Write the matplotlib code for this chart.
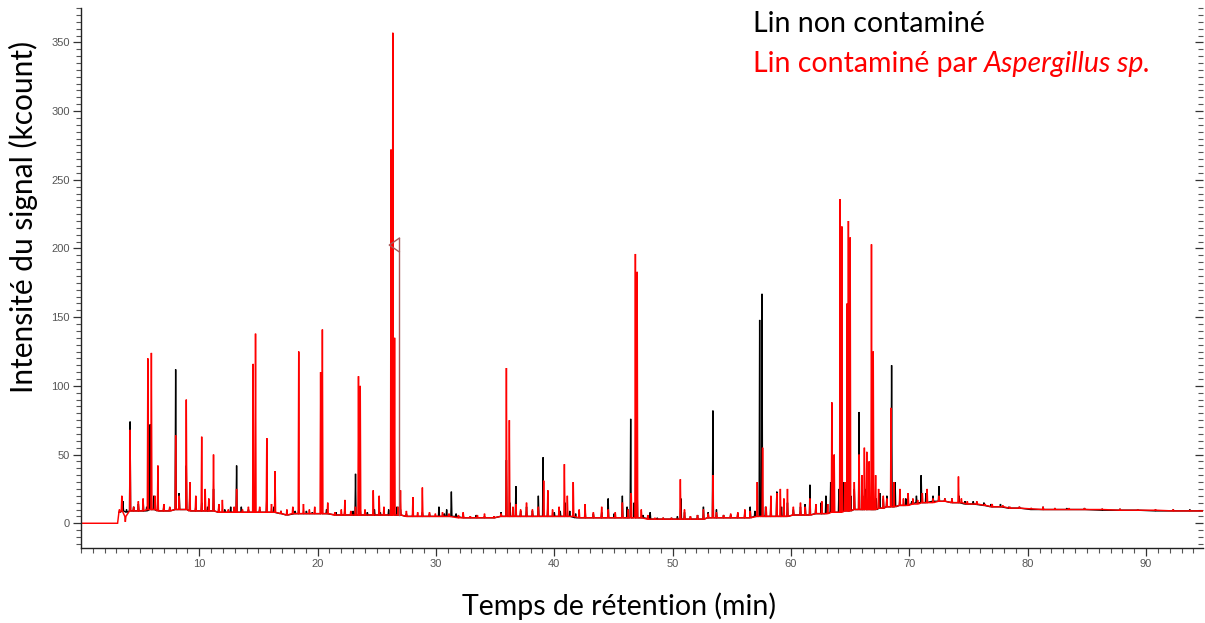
import matplotlib
matplotlib.use("Agg")
import matplotlib.pyplot as plt
from matplotlib.ticker import MultipleLocator

# peaks: (retention time min, foot level, apex level) in kcount
BLACK_PEAKS = [
    (3.25, 8, 8), (3.55, 9, 16), (3.85, 8, 10), (4.15, 9, 74), (4.45, 9, 12), (4.85, 9, 14),
    (5.25, 9, 17), (5.55, 9, 12), (5.85, 10, 72), (6.15, 10, 20), (6.5, 9, 20), (7.0, 9, 12),
    (7.5, 9, 11), (8.0, 10, 112), (8.3, 10, 22), (8.9, 10, 42), (9.2, 9, 22), (9.7, 9, 12),
    (10.2, 9, 15), (10.7, 9, 12), (11.2, 9, 25), (11.65, 8, 12), (12.15, 8, 10), (12.65, 8, 12),
    (13.15, 8, 42), (13.55, 8, 12), (14.15, 8, 10), (14.6, 8, 12), (15.1, 8, 10), (15.7, 8, 18),
    (16.3, 8, 12), (16.9, 7, 9), (17.4, 6, 8), (18.1, 7, 9), (18.4, 7, 10), (19.05, 7, 9),
    (19.55, 7, 8), (20.35, 7, 42), (20.75, 7, 10), (21.55, 6, 8), (22.3, 6, 10), (23.0, 6, 9),
    (23.2, 6, 36), (23.6, 6, 10), (24.2, 6, 8), (24.8, 6, 10), (25.3, 6, 8), (26.0, 6, 10),
    (26.4, 6, 40), (26.7, 6, 12), (27.0, 6, 10), (27.5, 5, 7), (28.05, 5, 8), (28.85, 5, 8),
    (29.45, 5, 7), (30.25, 5, 12), (30.7, 5, 7), (30.9, 5, 10), (31.3, 5, 23), (31.7, 5, 7),
    (32.3, 4, 6), (32.9, 4, 5), (33.4, 4, 6), (34.1, 4, 5), (34.9, 4, 5), (35.5, 5, 8),
    (35.95, 5, 46), (36.25, 5, 15), (36.75, 5, 27), (37.15, 5, 9), (37.65, 5, 12), (38.15, 5, 9),
    (38.65, 5, 20), (39.05, 5, 48), (39.45, 5, 12), (40.0, 5, 8), (40.5, 5, 9), (40.9, 5, 15),
    (41.3, 5, 9), (41.8, 4, 7), (42.6, 4, 10), (43.3, 4, 7), (44.0, 4, 8), (44.55, 4, 18),
    (45.05, 4, 7), (45.75, 4, 20), (46.15, 4, 12), (46.45, 4, 76), (46.75, 4, 15), (47.0, 4, 22),
    (47.5, 4, 6), (48.1, 3, 8), (48.7, 3, 4), (49.2, 3, 4), (49.9, 3, 4), (50.4, 3, 5),
    (50.7, 3, 18), (51.0, 3, 8), (51.5, 3, 5), (52.1, 3, 6), (52.6, 3, 12), (53.0, 4, 8),
    (53.4, 4, 82), (53.7, 4, 10), (54.3, 4, 6), (54.9, 4, 6), (55.5, 4, 7), (56.1, 4, 8),
    (56.55, 4, 12), (56.95, 5, 9), (57.35, 5, 148), (57.55, 5, 167), (57.85, 5, 12), (58.3, 5, 15),
    (58.8, 5, 23), (59.2, 5, 12), (59.7, 5, 15), (60.2, 6, 10), (60.8, 6, 12), (61.2, 6, 14),
    (61.6, 6, 28), (62.1, 7, 12), (62.55, 7, 15), (62.95, 7, 20), (63.35, 8, 30), (63.55, 8, 42),
    (64.05, 8, 25), (64.45, 9, 30), (64.75, 9, 88), (65.05, 9, 20), (65.35, 10, 25), (65.75, 10, 81),
    (66.05, 10, 20), (66.3, 10, 25), (66.6, 10, 22), (66.9, 10, 20), (67.2, 10, 18), (67.5, 11, 22),
    (67.8, 11, 18), (68.1, 12, 20), (68.5, 12, 115), (68.8, 12, 30), (69.2, 13, 18), (69.7, 13, 18),
    (70.2, 14, 16), (70.6, 15, 20), (71.0, 15, 35), (71.4, 15, 22), (72.0, 16, 20), (72.5, 16, 27),
    (73.0, 16, 18), (73.6, 15, 18), (74.2, 15, 20), (74.7, 14, 16), (75.4, 14, 16), (76.3, 13, 15),
    (76.9, 12, 14), (77.7, 12, 14), (78.4, 11, 12), (79.3, 11, 12), (80.3, 10, 11), (81.3, 10, 12),
    (82.3, 10, 11), (83.3, 10, 11), (84.8, 10, 11), (86.3, 9.5, 10.5), (87.8, 9.5, 10.5),
    (89.3, 9.5, 10), (90.8, 9, 10), (92.3, 9, 10), (93.7, 9, 10), (94.8, 9, 9),
]

RED_PEAKS = [
    (0.0, 0, 0), (3.05, 0, 0), (3.25, 8, 10), (3.45, 9, 20), (3.75, 5, 1), (4.15, 9, 68),
    (4.45, 9, 12), (4.85, 9, 16), (5.25, 9, 18), (5.65, 10, 120), (5.95, 10, 124), (6.25, 10, 20),
    (6.5, 9, 42), (7.0, 9, 14), (7.5, 9, 12), (8.0, 10, 64), (8.3, 10, 20), (8.9, 10, 90),
    (9.2, 9, 30), (9.7, 9, 20), (10.2, 9, 63), (10.5, 9, 25), (10.8, 9, 18), (11.2, 9, 50),
    (11.65, 8, 14), (11.95, 8, 17), (12.45, 8, 10), (12.95, 8, 12), (13.15, 8, 25), (13.65, 8, 10),
    (14.15, 8, 12), (14.55, 8, 116), (14.75, 8, 138), (15.1, 8, 12), (15.7, 8, 62), (16.1, 8, 14),
    (16.4, 8, 38), (16.9, 7, 9), (17.4, 6, 10), (17.9, 7, 12), (18.4, 7, 125), (18.8, 7, 14),
    (19.3, 7, 10), (19.75, 7, 12), (20.25, 7, 110), (20.4, 7, 141), (20.85, 7, 15), (21.45, 6, 8),
    (22.0, 6, 10), (22.3, 6, 17), (22.8, 6, 9), (23.2, 6, 12), (23.45, 6, 107), (23.6, 6, 100),
    (24.0, 6, 10), (24.7, 6, 24), (25.2, 6, 20), (25.6, 6, 12), (26.2, 6, 272), (26.35, 6, 357),
    (26.5, 6, 135), (26.8, 6, 12), (27.0, 6, 24), (27.5, 5, 9), (28.05, 5, 19), (28.45, 5, 8),
    (28.85, 5, 26), (29.45, 5, 8), (29.95, 5, 7), (30.55, 5, 8), (31.1, 5, 7), (31.9, 4, 6),
    (32.3, 4, 8), (32.9, 4, 5), (33.5, 4, 6), (34.1, 4, 7), (34.9, 4, 5), (35.5, 5, 7),
    (35.95, 5, 113), (36.2, 5, 75), (36.5, 5, 12), (36.75, 5, 14), (37.15, 5, 10), (37.65, 5, 15),
    (38.15, 5, 10), (38.65, 5, 12), (39.1, 5, 31), (39.45, 5, 24), (39.85, 5, 10), (40.4, 5, 12),
    (40.85, 5, 43), (41.1, 5, 20), (41.6, 5, 30), (42.1, 4, 10), (42.6, 4, 14), (43.3, 4, 8),
    (44.0, 4, 12), (44.55, 4, 10), (45.15, 4, 8), (45.75, 4, 15), (46.25, 4, 10), (46.5, 4, 22),
    (46.85, 4, 196), (47.0, 4, 183), (47.35, 4, 10), (47.9, 3, 6), (48.5, 3, 4), (49.2, 3, 4),
    (49.9, 3, 4), (50.65, 3, 32), (51.0, 3, 10), (51.5, 3, 5), (52.1, 3, 6), (52.6, 3, 10),
    (53.0, 4, 7), (53.4, 4, 35), (53.7, 4, 8), (54.3, 4, 6), (54.9, 4, 7), (55.5, 4, 8),
    (56.1, 4, 10), (56.55, 4, 9), (57.15, 5, 30), (57.6, 5, 55), (57.9, 5, 12), (58.3, 5, 20),
    (58.8, 5, 22), (59.1, 5, 25), (59.4, 5, 18), (59.7, 5, 25), (60.2, 6, 12), (60.8, 6, 15),
    (61.2, 6, 12), (61.6, 6, 18), (62.1, 7, 14), (62.6, 7, 16), (63.1, 7, 14), (63.45, 8, 88),
    (63.65, 8, 50), (64.15, 8, 236), (64.3, 8, 216), (64.55, 9, 30), (64.75, 9, 160), (64.85, 9, 220),
    (65.0, 9, 208), (65.35, 10, 30), (65.75, 10, 50), (66.0, 10, 35), (66.2, 10, 55), (66.4, 10, 52),
    (66.6, 10, 45), (66.8, 10, 203), (66.95, 10, 125), (67.15, 10, 35), (67.4, 11, 25), (67.8, 11, 20),
    (68.1, 12, 18), (68.45, 12, 84), (68.7, 12, 30), (69.2, 13, 25), (69.5, 13, 18), (69.9, 13, 22),
    (70.3, 14, 18), (70.7, 14, 17), (71.1, 15, 22), (71.5, 15, 25), (72.0, 15, 18), (72.5, 16, 20),
    (73.0, 16, 18), (73.6, 15, 18), (74.15, 15, 34), (74.4, 15, 18), (74.9, 14, 16), (75.7, 14, 16),
    (76.4, 13, 14), (77.0, 12, 14), (77.9, 12, 13), (78.5, 11, 12), (79.3, 11, 12), (80.3, 10.5, 11),
    (81.3, 10, 12), (82.3, 10, 11), (83.5, 10, 11), (84.8, 10, 11), (86.3, 10, 10.5), (87.8, 9.5, 10.5),
    (89.3, 9.5, 10), (90.8, 9.5, 10), (92.3, 9, 10), (93.7, 9, 9.5), (94.8, 9, 9),
]

# integration marker left on the big peak by the acquisition software
MARKER_T = 26.9
MARKER_FOOT = 6
MARKER_TOP = 207.5
MARKER_TIP = (26.05, 202.5)
MARKER_LOW = 197.5

LEGEND_BLACK = "Lin non contaminé"
LEGEND_RED = "Lin contaminé par "
LEGEND_RED_ITALIC = "Aspergillus sp."
XLABEL = "Temps de rétention (min)"
YLABEL = "Intensité du signal (kcount)"
XTICKS = [10, 20, 30, 40, 50, 60, 70, 80, 90]
YTICKS = [0, 50, 100, 150, 200, 250, 300, 350]


def build_trace(peaks, half_width=0.045):
    # each peak becomes foot -> apex -> foot
    t, y = [], []
    for pt, foot, top in peaks:
        t += [pt - half_width, pt, pt + half_width]
        y += [foot, top, foot]
    return t, y


fig = plt.figure(figsize=(12.05, 6.23), dpi=100)
ax = fig.add_axes([0.0672, 0.1204, 0.931, 0.8667])

bt, by = build_trace(BLACK_PEAKS)
rt, ry = build_trace(RED_PEAKS)
ax.plot(bt, by, color="black", lw=1.0, solid_joinstyle="miter")
ax.plot(rt, ry, color="#ff0000", lw=1.05, solid_joinstyle="miter")

# marker
mk = "#a85858"
ax.plot([MARKER_T, MARKER_T], [MARKER_FOOT, MARKER_TOP], color=mk, lw=1.0)
ax.plot([MARKER_T, MARKER_TIP[0], MARKER_T], [MARKER_TOP, MARKER_TIP[1], MARKER_LOW], color=mk, lw=1.0)

ax.set_xlim(0, 94.8)
ax.set_ylim(-18, 375)

for s in ["top", "right"]:
    ax.spines[s].set_visible(False)
for s in ["left", "bottom"]:
    ax.spines[s].set_color("#222222")
    ax.spines[s].set_linewidth(1.0)

ax.set_xticks(XTICKS)
ax.set_yticks(YTICKS)
ax.xaxis.set_minor_locator(MultipleLocator(1))
ax.yaxis.set_minor_locator(MultipleLocator(5))
ax.tick_params(axis="both", which="major", length=6, width=0.9, color="#333333",
               labelsize=8, labelcolor="#555555", pad=2)
ax.tick_params(axis="both", which="minor", length=3.5, width=0.8, color="#555555")
ax.tick_params(axis="y", which="both", right=True, direction="out")
for tk in ax.yaxis.get_major_ticks() + ax.yaxis.get_minor_ticks():
    tk.tick2line.set_marker(0)  # right-edge ticks point inward
for lab in ax.get_xticklabels() + ax.get_yticklabels():
    lab.set_family("Liberation Sans")

ax.set_xlabel(XLABEL, fontsize=20.5, family="Lato")
ax.set_ylabel(YLABEL, fontsize=21.5, family="Lato")
ax.xaxis.set_label_coords(0.48, -0.083)
ax.yaxis.set_label_coords(-0.038, 0.613)

t1 = ax.text(0.599, 0.971, LEGEND_BLACK, transform=ax.transAxes, fontsize=20.5, family="Lato",
             color="black", va="center", ha="left")
t2 = ax.text(0.599, 0.896, LEGEND_RED, transform=ax.transAxes, fontsize=20.5, family="Lato",
             color="#ff0000", va="center", ha="left")
ax.annotate(LEGEND_RED_ITALIC, xy=(1, 0), xycoords=t2, va="bottom", ha="left",
            fontsize=20.5, family="Lato", style="italic", color="#ff0000")

fig.savefig("out.png", dpi=100)
